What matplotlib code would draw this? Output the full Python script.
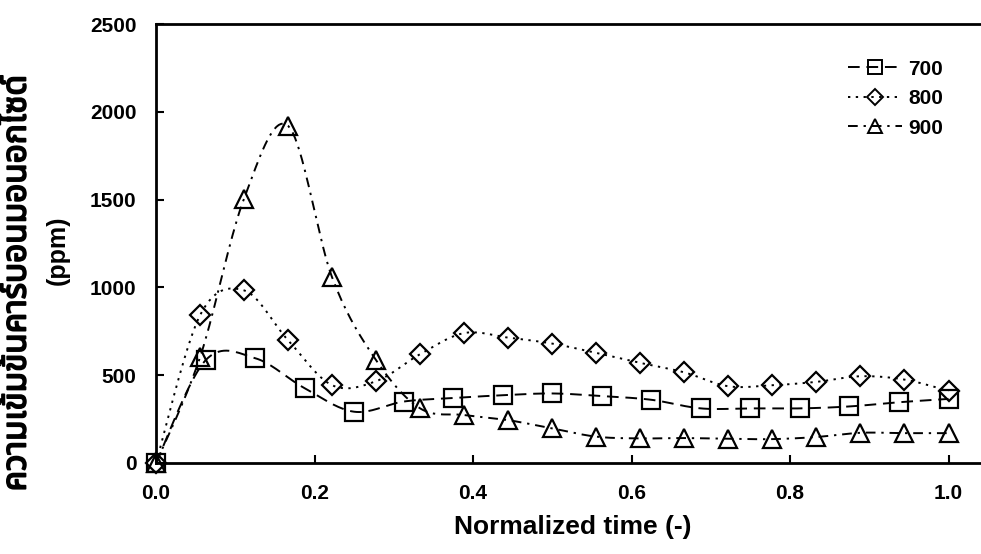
import numpy as np
import matplotlib
matplotlib.use("Agg")
import matplotlib.pyplot as plt
import matplotlib.patheffects as pe

# ข้อมูลที่อ่านจากกราฟ
x_700 = np.arange(17) / 16
y_700 = [0, 585, 597, 426, 292, 350, 370, 386, 396, 381, 360, 311, 311, 311, 322, 346, 365]

x_800 = np.arange(19) / 18
y_800 = [0, 841, 983, 699, 443, 466, 620, 740, 714, 680, 627, 570, 516, 437, 443, 462, 494, 475, 411]

x_900 = np.arange(19) / 18
y_900 = [0, 602, 1506, 1920, 1057, 585, 311, 273, 244, 197, 150, 140, 142, 138, 136, 148, 172, 170, 170]

labels = ["700", "800", "900"]
x_ticks = [0.0, 0.2, 0.4, 0.6, 0.8, 1.0]
y_ticks = [0, 500, 1000, 1500, 2000, 2500]

thai_fonts = ["Noto Sans Thai", "Noto Sans Thai Looped", "Loma", "Garuda", "Norasi",
              "Sarabun", "Tlwg Typo", "Liberation Sans", "DejaVu Sans"]


def smooth(x, y, n=20):
    # เส้นโค้งแบบ Excel (Bezier ผ่านทุกจุด)
    p = np.column_stack([x, y]).astype(float)
    p = np.vstack([p[0], p, p[-1]])
    t = np.linspace(0, 1, n)[:, None]
    out = []
    for i in range(1, len(p) - 2):
        p0, p1, p2, p3 = p[i - 1], p[i], p[i + 1], p[i + 2]
        c1 = p1 + (p2 - p0) / 6
        c2 = p2 - (p3 - p1) / 6
        seg = ((1 - t) ** 3) * p1 + 3 * ((1 - t) ** 2) * t * c1 + 3 * (1 - t) * t ** 2 * c2 + t ** 3 * p2
        out.append(seg if i == 1 else seg[1:])
    out = np.vstack(out)
    return out[:, 0], out[:, 1]


fig = plt.figure(figsize=(9.81, 5.54), dpi=100)
ax = fig.add_axes([156 / 981, 1 - 463 / 554, (990 - 156) / 981, (463 - 24) / 554])

series = [
    (x_700, y_700, "s", (0, (6, 3.5)), 12.5),
    (x_800, y_800, "D", (0, (1.2, 2.8)), 10),
    (x_900, y_900, "^", (0, (5, 3, 1.2, 3)), 13),
]

for (xs, ys, m, ls, ms), lab in zip(series, labels):
    sx, sy = smooth(xs, ys)
    ax.plot(sx, sy, color="black", lw=1.4, linestyle=ls)
    ax.plot(xs, ys, linestyle="none", marker=m, markersize=ms, markerfacecolor="none",
            markeredgecolor="black", markeredgewidth=1.6, clip_on=False)
    ax.plot([], [], color="black", lw=1.4, linestyle=ls, marker=m, markersize=ms * 0.8,
            markerfacecolor="none", markeredgecolor="black", markeredgewidth=1.4, label=lab)

ax.set_xlim(0, (990 - 156) / 792.5)
ax.set_ylim(0, 2500)
ax.set_xticks(x_ticks)
ax.set_yticks(y_ticks)
ax.set_xticklabels([f"{v:.1f}" for v in x_ticks])
ax.tick_params(direction="in", length=6, width=1.5, labelsize=15)
ax.tick_params(axis="x", pad=15)
ax.tick_params(axis="y", pad=14)
for lab in ax.get_xticklabels() + ax.get_yticklabels():
    lab.set_fontweight("bold")
    lab.set_family("Liberation Sans")
for s in ax.spines.values():
    s.set_linewidth(2)

ax.set_xlabel("Normalized time (-)", fontsize=19, fontweight="bold",
              family="Liberation Sans", labelpad=9)

# ป้ายแกน y สองบรรทัด
fig.text(17 / 981, 1 - 283 / 554, "ความเข้มข้นคาร์บอนมอนอกไซด์", rotation=90,
         ha="center", va="center", fontsize=24, fontweight="bold", family=thai_fonts,
         path_effects=[pe.withStroke(linewidth=1.3, foreground="black")])
fig.text(58 / 981, 1 - 250 / 554, "(ppm)", rotation=90, ha="center", va="center",
         fontsize=18, fontweight="bold", family="Liberation Sans")

leg = ax.legend(loc="upper right", bbox_to_anchor=(962 / 981, 1 - 41 / 554),
                bbox_transform=fig.transFigure, frameon=False, handlelength=2.6,
                handletextpad=0.3, labelspacing=0.5,
                prop={"family": "Liberation Sans", "weight": "bold", "size": 15})

fig.savefig("out.png", dpi=100)
